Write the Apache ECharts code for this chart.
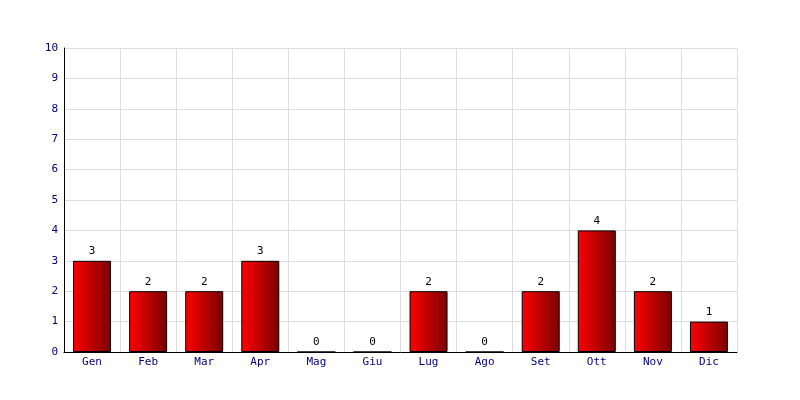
<!DOCTYPE html>
<html><head><meta charset="utf-8">
<script src="https://cdn.jsdelivr.net/npm/echarts@6/dist/echarts.min.js"></script>
<style>html,body{margin:0;padding:0;background:#fff}#c{width:800px;height:400px}</style>
</head><body><div id="c"></div>
<script>
const categories = ["Gen","Feb","Mar","Apr","Mag","Giu","Lug","Ago","Set","Ott","Nov","Dic"];
const values = [3,2,2,3,0,0,2,0,2,4,2,1];
const yTicks = {min:0, max:10, interval:1};

const chart = echarts.init(document.getElementById('c'), null, {renderer:'canvas'});
const font = '"DejaVu Sans Mono", monospace';
chart.setOption({
  animation:false,
  backgroundColor:'#ffffff',
  grid:{left:64, right:63, top:48, bottom:48, containLabel:false},
  xAxis:{
    type:'category', data:categories,
    axisLine:{lineStyle:{color:'#000000', width:1}},
    axisTick:{show:false},
    axisLabel:{color:'#000080', fontFamily:font, fontSize:11, margin:5},
    splitLine:{show:true, lineStyle:{color:'#dddddd', width:1}}
  },
  yAxis:{
    type:'value', min:yTicks.min, max:yTicks.max, interval:yTicks.interval,
    axisLine:{show:true, lineStyle:{color:'#000000', width:1}},
    axisTick:{show:false},
    axisLabel:{color:'#000080', fontFamily:font, fontSize:11, margin:6},
    splitLine:{show:true, lineStyle:{color:'#dddddd', width:1}}
  },
  series:[{
    type:'bar', data:values, barWidth:38,
    itemStyle:{
      color:new echarts.graphic.LinearGradient(0,0,1,0,[{offset:0,color:'#ff0000'},{offset:1,color:'#7a0000'}]),
      borderColor:'#000000', borderWidth:1
    },
    label:{show:true, position:'top', color:'#000000', fontFamily:font, fontSize:11, distance:4}
  }]
});
</script></body></html>
